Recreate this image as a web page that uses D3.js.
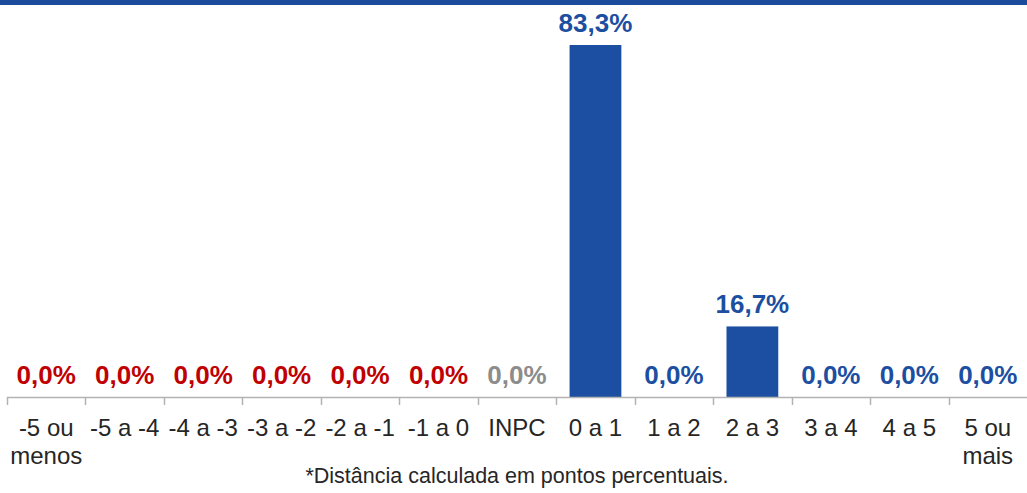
<!DOCTYPE html>
<html>
<head>
<meta charset="utf-8">
<script src="https://cdnjs.cloudflare.com/ajax/libs/d3/7.8.5/d3.min.js"></script>
<style>
  body { margin: 0; background: #fff; }
  svg { display: block; font-family: "Liberation Sans", Arial, sans-serif; }
</style>
</head>
<body>
<svg id="chart"></svg>
<script>
var screen = {width: 1027, height: 493};
var margins = {top: 0, right: 0, bottom: 96, left: 7};

// categorias e valores
var categories = ["-5 ou menos", "-5 a -4", "-4 a -3", "-3 a -2", "-2 a -1", "-1 a 0", "INPC",
                  "0 a 1", "1 a 2", "2 a 3", "3 a 4", "4 a 5", "5 ou mais"];
var tickLines = [["-5 ou", "menos"], ["-5 a -4"], ["-4 a -3"], ["-3 a -2"], ["-2 a -1"], ["-1 a 0"], ["INPC"],
                 ["0 a 1"], ["1 a 2"], ["2 a 3"], ["3 a 4"], ["4 a 5"], ["5 ou", "mais"]];
var values = [0, 0, 0, 0, 0, 0, 0, 83.3, 0, 16.7, 0, 0, 0];
var groups = ["neg", "neg", "neg", "neg", "neg", "neg", "inpc", "pos", "pos", "pos", "pos", "pos", "pos"];
var note = "*Distância calculada em pontos percentuais.";

var colors = {neg: "#c00000", inpc: "#8c8c8c", pos: "#1c4fa1"};

var svg = d3.select("#chart")
    .attr("width", screen.width)
    .attr("height", screen.height)

// faixa azul no topo
svg.append("rect")
    .attr("x", 0).attr("y", 0)
    .attr("width", screen.width).attr("height", 5)
    .attr("fill", "#1c4b9c")

var width = screen.width - margins.left - margins.right;
var baseY = 397;

var xScale = d3.scaleBand()
    .domain(categories)
    .range([margins.left, margins.left + width])
    .paddingInner(0.34)
    .paddingOuter(0.17)

var xTicks = d3.scaleBand()
    .domain(categories)
    .range([margins.left, margins.left + width])

var yScale = d3.scaleLinear()
    .domain([0, 83.3])
    .range([baseY, 45])

// barras
svg.append("g")
    .selectAll("rect")
    .data(values)
    .enter()
    .append("rect")
    .attr("x", function(d, i) { return xScale(categories[i]) })
    .attr("y", function(d) { return yScale(d) })
    .attr("width", xScale.bandwidth())
    .attr("height", function(d) { return baseY - yScale(d) })
    .attr("fill", "#1c4fa1")

// eixo
svg.append("line")
    .attr("x1", margins.left).attr("x2", margins.left + width)
    .attr("y1", baseY + 0.5).attr("y2", baseY + 0.5)
    .attr("stroke", "#b3b3b3").attr("stroke-width", 1.5)

var boundaries = categories.map(function(c) { return xTicks(c) });
svg.append("g")
    .selectAll("line")
    .data(boundaries)
    .enter()
    .append("line")
    .attr("x1", function(d) { return Math.round(d) + 0.5 })
    .attr("x2", function(d) { return Math.round(d) + 0.5 })
    .attr("y1", baseY).attr("y2", baseY + 8)
    .attr("stroke", "#b3b3b3").attr("stroke-width", 1.5)

// rótulos dos valores
svg.append("g")
    .selectAll("text")
    .data(values)
    .enter()
    .append("text")
    .attr("x", function(d, i) { return xTicks(categories[i]) + xTicks.bandwidth() / 2 })
    .attr("y", function(d) { return yScale(d) - 13 })
    .attr("text-anchor", "middle")
    .attr("font-size", "26px")
    .attr("font-weight", "bold")
    .attr("fill", function(d, i) { return colors[groups[i]] })
    .text(function(d) { return d.toFixed(1).replace(".", ",") + "%" })

// rótulos das categorias
var labels = svg.append("g")
    .selectAll("text")
    .data(tickLines)
    .enter()
    .append("text")
    .attr("x", function(d, i) { return xTicks(categories[i]) + xTicks.bandwidth() / 2 })
    .attr("y", 436)
    .attr("text-anchor", "middle")
    .attr("font-size", "24px")
    .attr("fill", "#262626")

labels.selectAll("tspan")
    .data(function(d) { return d })
    .enter()
    .append("tspan")
    .attr("x", function() { return d3.select(this.parentNode).attr("x") })
    .attr("dy", function(d, i) { return i == 0 ? 0 : 28 })
    .text(function(d) { return d })

// nota
svg.append("text")
    .attr("x", 517)
    .attr("y", 483)
    .attr("text-anchor", "middle")
    .attr("font-size", "21.5px")
    .attr("fill", "#262626")
    .text(note)
</script>
</body>
</html>
